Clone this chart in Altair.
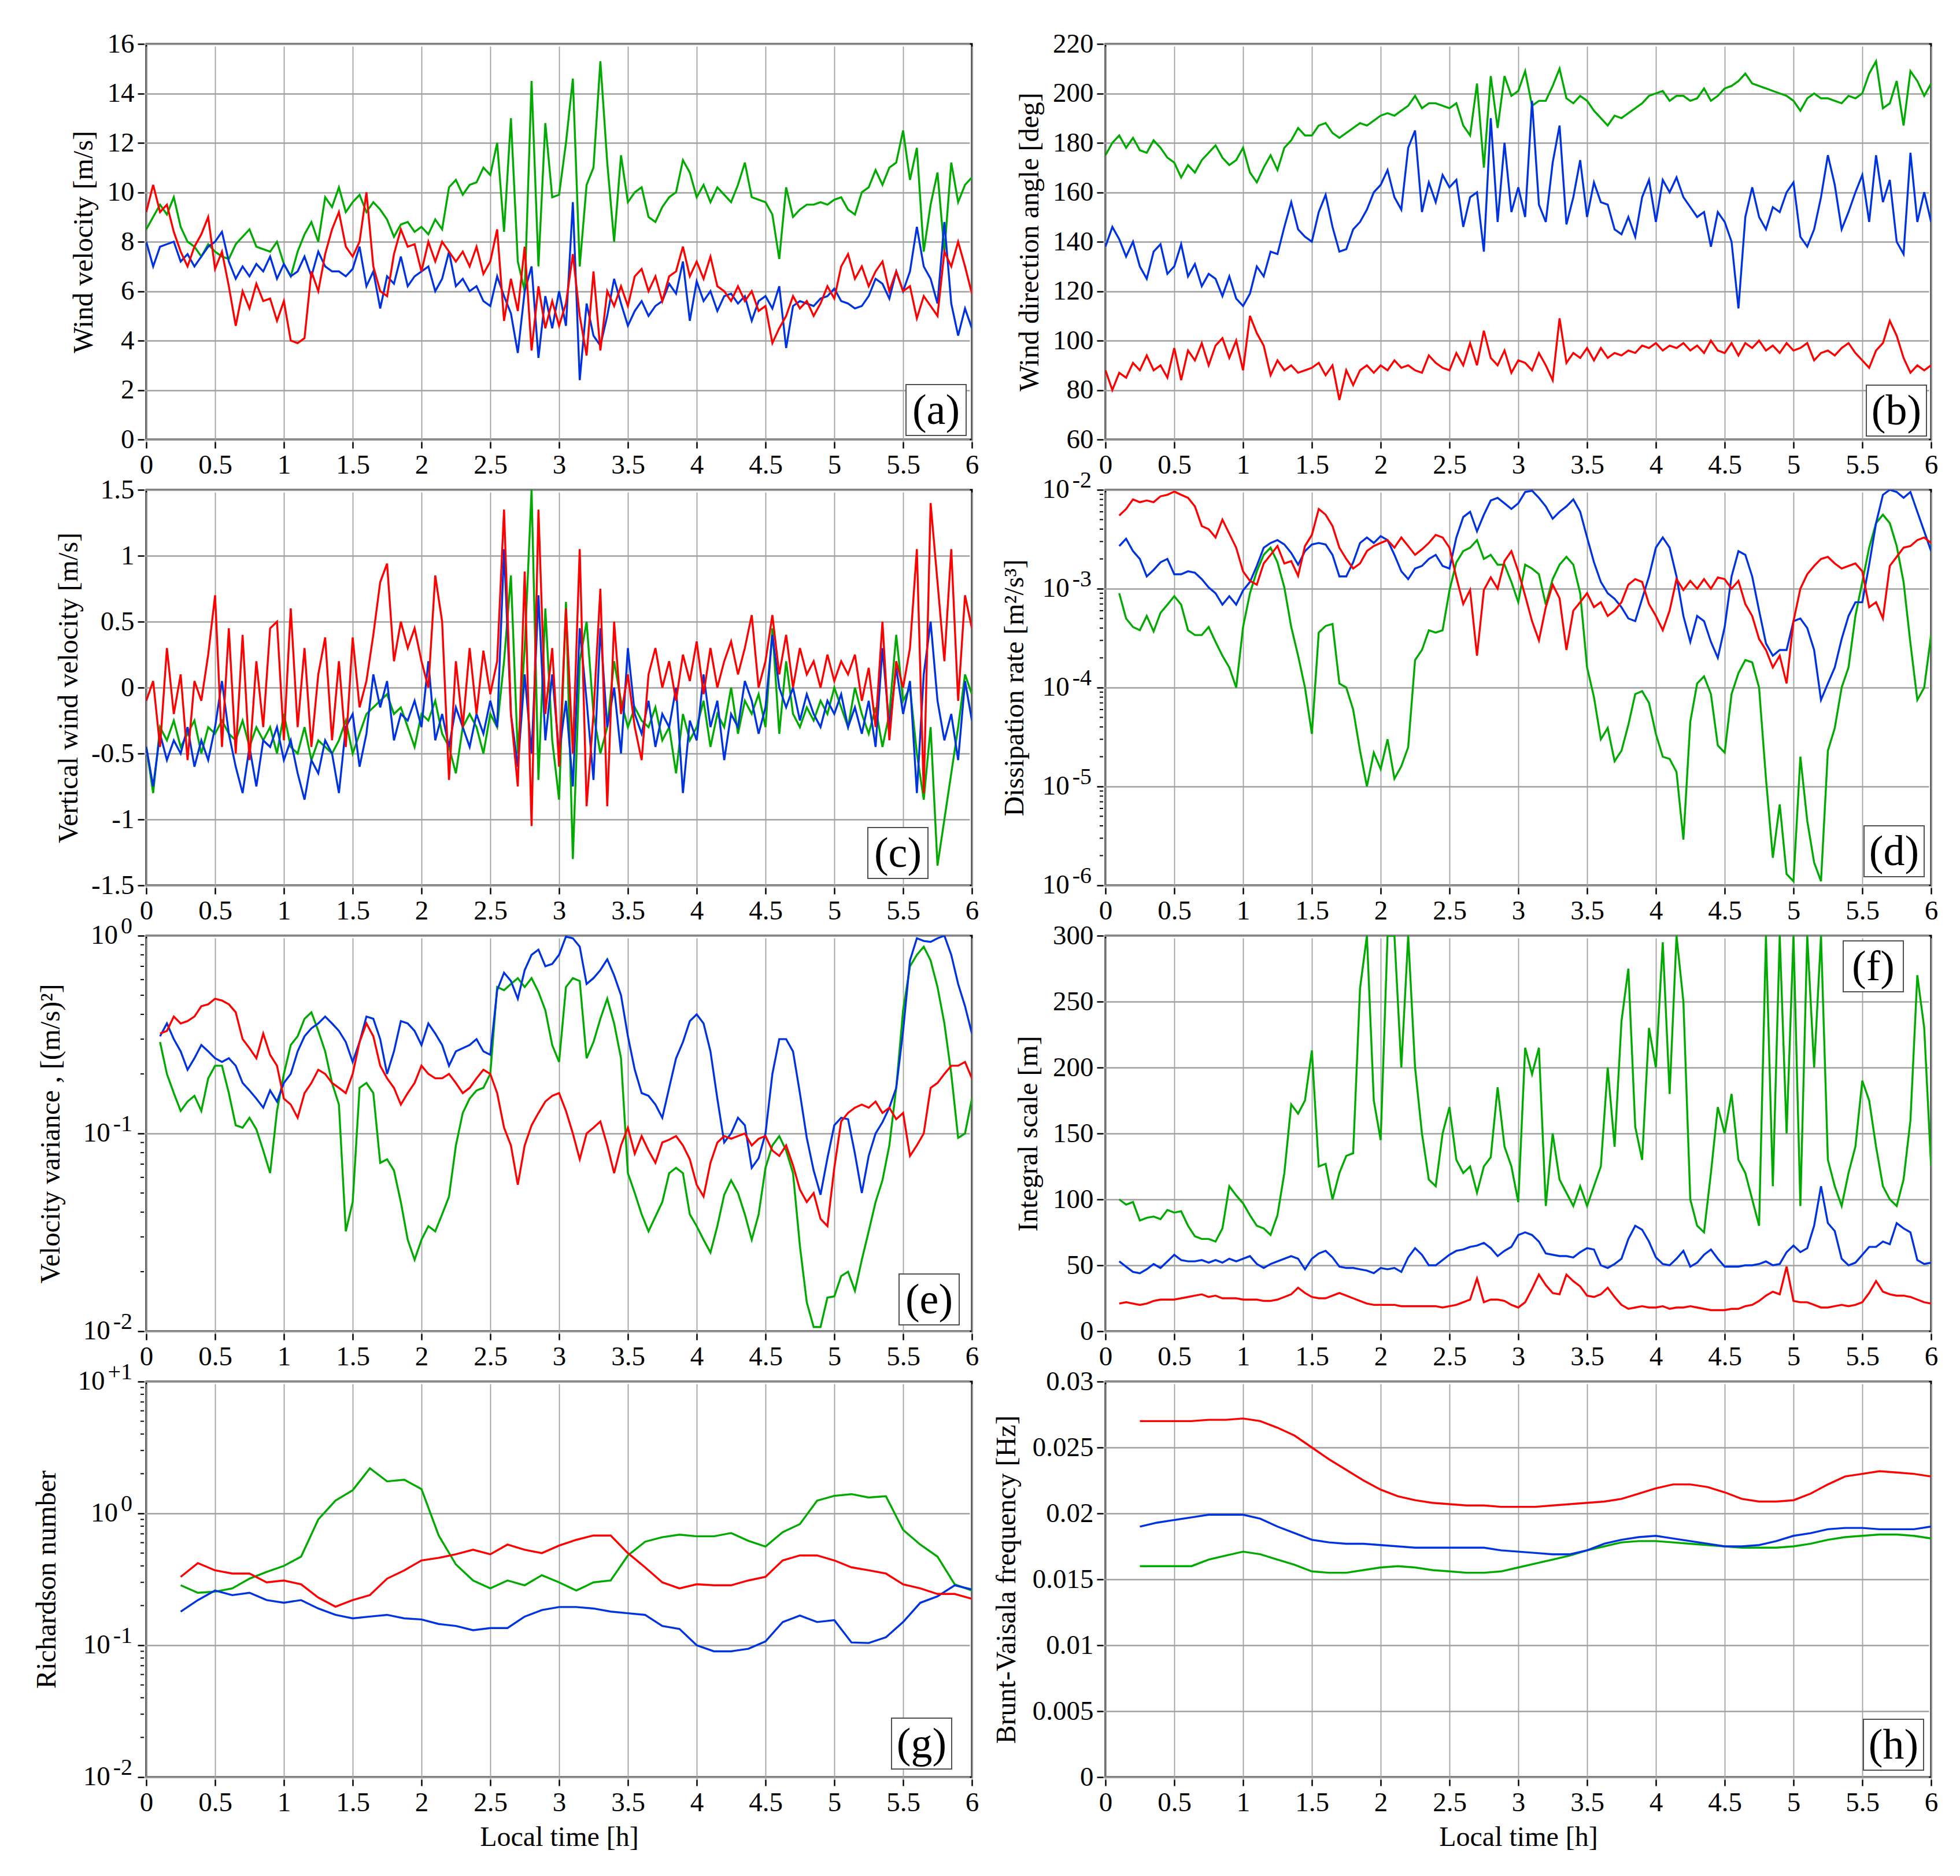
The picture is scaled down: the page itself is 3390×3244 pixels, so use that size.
import altair as alt
import pandas as pd

FONT = "Liberation Serif"
GREEN = "#00aa00"
BLUE = "#0033e0"
RED = "#ff0000"
W, H = 1428, 684          # plot area of every panel
BW, BH = 104, 88          # panel tag box
LINE_W = 3.4

X_TICKS = [0, 0.5, 1, 1.5, 2, 2.5, 3, 3.5, 4, 4.5, 5, 5.5, 6]


def grid_times(start, step, n):
    return [round(start + i * step, 4) for i in range(n)]


T_FULL = grid_times(0.0, 0.05, 121)     # 0 .. 6 h
T_LATE = grid_times(0.1, 0.05, 119)     # 0.1 .. 6 h
T_SMOOTH = grid_times(0.25, 0.125, 47)  # 0.25 .. 6 h

# ---------------- (a) wind velocity [m/s] ----------------
GREEN_A = [8.5, 9.0, 9.5, 9.1, 9.8, 8.6, 8.0, 7.8, 7.4, 7.9,
           7.6, 7.4, 7.3, 7.9, 8.2, 8.5, 7.8, 7.7, 7.6, 8.0,
           7.1, 6.6, 7.6, 8.3, 8.8, 8.0, 9.8, 9.4, 10.2, 9.2,
           9.6, 9.9, 9.2, 9.6, 9.3, 8.9, 8.2, 8.7, 8.8, 8.4,
           8.6, 8.3, 8.9, 8.5, 10.2, 10.5, 9.9, 10.3, 10.4, 11.0,
           10.7, 12.0, 8.4, 13.0, 7.2, 6.0, 14.5, 7.0, 12.8, 9.8,
           9.9, 12.0, 14.6, 7.0, 10.3, 11.0, 15.3, 11.2, 8.0, 11.5,
           9.6, 10.0, 10.2, 9.0, 8.8, 9.4, 9.8, 10.0, 11.3, 10.8,
           9.8, 10.3, 9.6, 10.2, 9.9, 9.6, 10.3, 11.2, 9.8, 9.7,
           9.6, 9.1, 7.3, 10.2, 9.0, 9.3, 9.5, 9.5, 9.6, 9.5,
           9.7, 9.8, 9.3, 9.1, 10.0, 10.2, 10.9, 10.3, 11.0, 11.2,
           12.5, 10.5, 11.8, 7.6, 9.5, 10.8, 7.6, 11.2, 9.6, 10.3, 10.6]
BLUE_A = [8.0, 7.0, 7.8, 7.9, 8.0, 7.2, 7.5, 7.0, 7.4, 7.8,
          8.0, 8.4, 7.2, 6.5, 7.0, 6.6, 7.1, 6.8, 7.4, 6.5,
          7.1, 6.6, 6.8, 7.4, 6.6, 7.6, 7.0, 6.8, 6.8, 6.6,
          6.9, 7.8, 6.2, 6.8, 5.3, 6.6, 6.3, 7.4, 6.2, 6.6,
          6.8, 7.0, 6.0, 6.5, 7.6, 6.2, 6.5, 6.0, 6.2, 5.6,
          5.4, 6.6, 5.8, 5.1, 3.5, 6.0, 7.0, 3.3, 5.8, 4.5,
          6.0, 4.6, 9.6, 2.4, 5.5, 4.2, 3.8, 5.0, 6.5, 5.5,
          4.6, 5.2, 5.6, 5.0, 5.4, 5.6, 6.3, 5.9, 7.2, 4.8,
          6.4, 5.6, 6.0, 5.2, 5.8, 5.9, 5.5, 5.8, 4.8, 5.6,
          5.8, 5.3, 6.2, 3.7, 5.4, 5.6, 5.5, 5.4, 5.7, 5.8,
          6.1, 5.6, 5.5, 5.3, 5.4, 5.8, 6.5, 6.3, 5.7, 6.8,
          6.0, 6.8, 8.6, 7.0, 6.5, 5.5, 8.8, 5.5, 4.2, 5.3, 4.5]
RED_A = [9.2, 10.3, 9.2, 9.5, 8.4, 7.6, 7.0, 7.8, 8.3, 9.0,
         6.9, 7.6, 6.2, 4.6, 6.0, 5.3, 6.3, 5.6, 5.7, 4.8,
         5.6, 4.0, 3.9, 4.1, 6.8, 6.0, 7.5, 8.5, 9.2, 7.8,
         7.4, 8.0, 10.0, 7.0, 6.0, 5.8, 7.5, 8.5, 7.8, 7.9,
         6.8, 8.0, 7.2, 8.0, 7.6, 7.2, 7.6, 7.0, 7.8, 6.7,
         7.2, 8.5, 4.8, 6.5, 5.2, 7.8, 3.6, 6.2, 4.5, 5.6,
         4.6, 5.5, 7.5, 5.0, 3.4, 6.8, 3.6, 6.0, 5.4, 6.2,
         5.4, 6.6, 6.9, 6.0, 6.6, 5.6, 6.6, 6.8, 7.8, 6.6,
         7.2, 6.5, 7.4, 6.2, 6.0, 5.6, 6.2, 5.6, 6.0, 5.2,
         5.4, 3.9, 4.5, 5.0, 5.8, 5.3, 5.6, 5.0, 5.5, 6.2,
         5.7, 7.0, 7.5, 6.5, 7.0, 6.2, 6.8, 7.2, 6.0, 6.8,
         6.0, 6.2, 4.9, 5.8, 5.4, 5.0, 7.6, 7.0, 8.0, 7.0, 5.9]

# ---------------- (b) wind direction [deg] ----------------
GREEN_B = [175, 180, 183, 178, 182, 177, 176, 181, 178, 174,
           172, 166, 171, 168, 173, 176, 179, 174, 171, 173,
           178, 168, 164, 170, 175, 169, 178, 181, 186, 183,
           183, 187, 188, 184, 182, 184, 186, 188, 187, 189,
           191, 192, 191, 193, 195, 199, 194, 196, 196, 195,
           194, 196, 187, 183, 204, 170, 207, 186, 207, 199,
           201, 209, 195, 197, 197, 203, 210, 198, 196, 199,
           197, 193, 190, 187, 191, 190, 192, 194, 196, 199,
           200, 201, 197, 199, 199, 197, 198, 202, 197, 199,
           202, 203, 205, 208, 204, 203, 202, 201, 200, 199,
           197, 193, 198, 200, 198, 198, 197, 196, 199, 198,
           200, 208, 213, 194, 196, 205, 187, 209, 205, 199, 204]
BLUE_B = [138, 146, 141, 134, 140, 130, 125, 136, 139, 127,
          130, 139, 126, 131, 122, 127, 125, 118, 126, 117,
          114, 119, 130, 126, 136, 135, 146, 156, 145, 142,
          140, 152, 159, 146, 136, 137, 145, 148, 153, 160,
          163, 169, 158, 153, 178, 185, 152, 164, 156, 167,
          162, 165, 146, 158, 160, 136, 190, 148, 180, 152,
          162, 150, 197, 155, 148, 172, 187, 147, 158, 173,
          150, 164, 156, 155, 145, 143, 150, 142, 158, 165,
          148, 165, 160, 166, 158, 154, 150, 152, 138, 152,
          148, 140, 113, 150, 162, 150, 145, 154, 152, 160,
          164, 142, 138, 145, 158, 175, 163, 145, 152, 160,
          167, 148, 175, 156, 165, 140, 135, 176, 148, 160, 148]
RED_B = [88, 80, 87, 85, 91, 88, 94, 88, 90, 85,
         97, 84, 96, 92, 99, 90, 98, 101, 93, 100,
         88, 110, 103, 98, 86, 92, 88, 90, 87, 88,
         89, 91, 86, 90, 76, 88, 82, 88, 90, 87,
         90, 88, 92, 89, 90, 88, 87, 94, 91, 89,
         88, 95, 90, 99, 90, 104, 93, 90, 96, 87,
         92, 91, 88, 95, 90, 84, 109, 91, 95, 93,
         97, 92, 97, 93, 95, 94, 96, 95, 98, 97,
         99, 96, 98, 97, 99, 96, 98, 95, 100, 96,
         95, 99, 94, 99, 97, 100, 96, 98, 95, 99,
         96, 97, 99, 92, 95, 96, 94, 97, 99, 95,
         92, 89, 96, 99, 108, 102, 93, 87, 90, 88, 90]

# ---------------- (c) vertical wind velocity [m/s] ----------------
GREEN_C = [-0.45, -0.8, -0.3, -0.4, -0.25, -0.45, -0.35, -0.25, -0.5, -0.3,
           -0.35, -0.25, -0.35, -0.4, -0.25, -0.45, -0.3, -0.4, -0.3, -0.5,
           -0.2, -0.45, -0.5, -0.3, -0.55, -0.4, -0.45, -0.5, -0.4, -0.25,
           -0.5, -0.35, -0.2, -0.15, -0.1, -0.05, -0.2, -0.15, -0.3, -0.45,
           -0.2, -0.25, -0.1, -0.35, -0.45, -0.65, -0.3, -0.2, -0.3, -0.5,
           -0.2, -0.3, 0.2, 0.85, -0.5, 0.3, 1.5, -0.7, 0.6, -0.4,
           -0.85, 0.65, -1.3, 0.2, 0.5, -0.2, -0.5, -0.3, 0.2, -0.1,
           -0.3, -0.15, -0.25, -0.3, -0.15, -0.4, -0.3, -0.65, -0.2, -0.4,
           -0.3, -0.1, -0.45, -0.2, -0.3, 0.0, -0.35, -0.1, -0.2, -0.05,
           -0.3, 0.45, -0.35, 0.2, -0.2, -0.3, -0.15, -0.25, -0.1, -0.2,
           0.0, -0.15, -0.3, 0.0, -0.2, -0.35, -0.15, -0.45, -0.2, 0.4,
           -0.1, 0.0, -0.5, -0.85, -0.3, -1.35, -1.0, -0.65, -0.3, 0.1, -0.05]
BLUE_C = [-0.45, -0.75, -0.35, -0.55, -0.4, -0.5, -0.3, -0.6, -0.4, -0.55,
          -0.3, 0.05, -0.35, -0.6, -0.8, -0.45, -0.75, -0.4, -0.45, -0.3,
          -0.55, -0.4, -0.65, -0.85, -0.55, -0.65, -0.4, -0.5, -0.8, -0.3,
          -0.2, -0.6, -0.35, 0.1, -0.15, 0.05, -0.4, -0.2, -0.25, -0.1,
          -0.3, 0.2, -0.4, -0.2, -0.45, -0.15, -0.3, -0.45, -0.2, -0.35,
          -0.1, -0.3, 1.05, -0.2, -0.6, 0.1, -0.5, 0.7, -0.4, 0.1,
          -0.5, -0.1, -0.75, 0.45, -0.1, -0.7, 0.45, -0.3, 0.0, -0.5,
          0.3, -0.2, -0.35, -0.1, -0.45, -0.2, -0.3, 0.0, -0.8, -0.25,
          -0.4, 0.1, -0.3, -0.1, -0.55, -0.2, -0.3, 0.05, -0.1, -0.35,
          -0.15, 0.4, 0.0, -0.15, 0.0, -0.25, -0.05, -0.2, -0.3, -0.1,
          -0.2, -0.05, -0.3, -0.15, -0.35, -0.1, -0.45, 0.3, -0.3, 0.15,
          -0.2, 0.05, -0.8, 0.1, 0.5, -0.1, -0.4, -0.2, -0.55, 0.05, -0.25]
RED_C = [-0.1, 0.05, -0.45, 0.3, -0.2, 0.1, -0.55, 0.05, -0.1, 0.25,
         0.7, -0.45, 0.45, -0.5, 0.4, -0.55, 0.2, -0.3, 0.45, 0.5,
         -0.4, 0.6, -0.3, 0.3, -0.45, 0.1, 0.38, -0.4, 0.2, -0.45,
         0.38, -0.15, 0.05, 0.4, 0.8, 0.94, 0.2, 0.5, 0.3, 0.45,
         0.2, 0.0, 0.85, 0.5, -0.7, 0.2, -0.3, 0.3, -0.2, 0.28,
         -0.05, 0.2, 1.35, -0.2, -0.75, 0.88, -1.05, 1.35, -0.2, 0.3,
         -0.6, 0.6, -0.5, 1.05, -0.9, -0.2, 0.75, -0.9, 0.5, -0.2,
         0.1, -0.3, -0.55, 0.1, 0.3, 0.0, 0.2, -0.1, 0.25, 0.05,
         0.35, -0.05, 0.3, 0.0, 0.2, 0.35, 0.1, 0.3, 0.55, 0.0,
         0.2, 0.55, 0.1, 0.4, 0.0, 0.3, 0.1, 0.2, 0.0, 0.25,
         0.05, 0.2, 0.1, 0.25, -0.1, 0.15, -0.3, 0.5, -0.4, 0.2,
         0.0, 0.3, 1.05, -0.8, 1.4, 0.8, 0.2, 1.05, -0.1, 0.7, 0.45]

# ---------------- (d) dissipation rate [m2/s3] ----------------
GREEN_D = [9.0e-4, 5.0e-4, 4.1e-4, 3.8e-4, 5.3e-4, 3.7e-4, 5.7e-4, 6.9e-4, 8.4e-4, 6.9e-4,
           3.8e-4, 3.4e-4, 3.4e-4, 4.1e-4, 2.9e-4, 2.1e-4, 1.6e-4, 1.0e-4, 4.1e-4, 9.0e-4,
           1.5e-3, 2.2e-3, 2.6e-3, 1.85e-3, 1.03e-3, 4.1e-4, 2.1e-4, 1.0e-4, 3.4e-5, 3.6e-4,
           4.2e-4, 4.4e-4, 1.1e-4, 1.0e-4, 6.0e-5, 2.3e-5, 1.0e-5, 2.2e-5, 1.5e-5, 3.0e-5,
           1.2e-5, 1.6e-5, 2.5e-5, 1.9e-4, 2.4e-4, 3.8e-4, 3.6e-4, 3.8e-4, 9.6e-4, 1.85e-3,
           2.4e-3, 2.6e-3, 3.1e-3, 2.0e-3, 2.2e-3, 1.75e-3, 1.75e-3, 1.17e-3, 7.3e-4, 1.75e-3,
           1.6e-3, 1.4e-3, 6.9e-4, 1.25e-3, 1.75e-3, 2.1e-3, 1.75e-3, 9.0e-4, 1.6e-4, 8.0e-5,
           3.0e-5, 3.9e-5, 1.8e-5, 2.3e-5, 4.2e-5, 8.6e-5, 9.2e-5, 7.0e-5, 3.4e-5, 2.0e-5,
           1.9e-5, 1.4e-5, 2.9e-6, 4.5e-5, 1.1e-4, 1.3e-4, 8.6e-5, 2.6e-5, 2.2e-5, 8.6e-5,
           1.4e-4, 1.9e-4, 1.8e-4, 1.0e-4, 1.2e-5, 1.9e-6, 6.6e-6, 1.3e-6, 1.1e-6, 2.0e-5,
           4.5e-6, 1.7e-6, 1.1e-6, 2.3e-5, 3.9e-5, 1.0e-4, 1.6e-4, 5.3e-4, 1.17e-3, 2.6e-3,
           4.6e-3, 5.6e-3, 4.6e-3, 2.7e-3, 1.17e-3, 2.8e-4, 7.5e-5, 1.0e-4, 3.4e-4]
BLUE_D = [2.7e-3, 3.2e-3, 2.4e-3, 2.0e-3, 1.33e-3, 1.55e-3, 1.85e-3, 2.0e-3, 1.4e-3, 1.4e-3,
          1.5e-3, 1.45e-3, 1.25e-3, 1.03e-3, 9.0e-4, 6.9e-4, 8.4e-4, 6.9e-4, 9.6e-4, 1.17e-3,
          1.7e-3, 2.6e-3, 2.9e-3, 3.1e-3, 2.8e-3, 2.3e-3, 1.75e-3, 2.4e-3, 2.8e-3, 2.9e-3,
          2.8e-3, 2.2e-3, 1.33e-3, 1.33e-3, 1.85e-3, 2.9e-3, 3.3e-3, 2.9e-3, 3.4e-3, 3.1e-3,
          2.2e-3, 1.5e-3, 1.25e-3, 1.6e-3, 1.7e-3, 2.0e-3, 2.2e-3, 1.7e-3, 1.6e-3, 3.3e-3,
          5.3e-3, 6.0e-3, 3.8e-3, 5.6e-3, 7.8e-3, 8.3e-3, 7.3e-3, 6.4e-3, 7.3e-3, 9.5e-3,
          9.8e-3, 8.3e-3, 6.8e-3, 5.1e-3, 6.0e-3, 6.8e-3, 8.0e-3, 6.0e-3, 3.3e-3, 1.85e-3,
          1.17e-3, 9.0e-4, 7.9e-4, 6.5e-4, 5.0e-4, 4.7e-4, 7.9e-4, 1.33e-3, 2.6e-3, 3.3e-3,
          2.6e-3, 1.33e-3, 5.3e-4, 2.9e-4, 5.3e-4, 4.7e-4, 2.9e-4, 2.0e-4, 4.1e-4, 1.33e-3,
          2.4e-3, 2.2e-3, 1.33e-3, 6.0e-4, 2.8e-4, 2.1e-4, 2.4e-4, 2.4e-4, 4.7e-4, 5.0e-4,
          4.0e-4, 2.4e-4, 7.5e-5, 1.1e-4, 1.6e-4, 3.1e-4, 5.3e-4, 7.3e-4, 7.3e-4, 1.75e-3,
          4.6e-3, 8.9e-3, 1.0e-2, 9.5e-3, 8.3e-3, 9.5e-3, 6.0e-3, 3.8e-3, 2.4e-3]
RED_D = [5.5e-3, 6.4e-3, 8.0e-3, 7.5e-3, 7.8e-3, 7.5e-3, 8.6e-3, 8.9e-3, 9.6e-3, 8.9e-3,
         8.3e-3, 6.8e-3, 4.3e-3, 4.0e-3, 3.3e-3, 5.0e-3, 3.6e-3, 2.6e-3, 1.5e-3, 1.2e-3,
         1.1e-3, 1.8e-3, 2.2e-3, 2.7e-3, 1.8e-3, 1.9e-3, 1.35e-3, 2.7e-3, 3.5e-3, 6.4e-3,
         5.6e-3, 4.3e-3, 2.6e-3, 2.0e-3, 1.6e-3, 1.8e-3, 2.4e-3, 2.7e-3, 2.9e-3, 3.1e-3,
         2.6e-3, 3.3e-3, 2.7e-3, 2.2e-3, 2.5e-3, 2.9e-3, 3.5e-3, 3.3e-3, 2.6e-3, 1.3e-3,
         7.0e-4, 9.7e-4, 2.1e-4, 9.7e-4, 1.3e-3, 1.0e-3, 1.9e-3, 2.4e-3, 1.5e-3, 8.5e-4,
         4.7e-4, 3.0e-4, 6.5e-4, 1.1e-3, 8.0e-4, 2.4e-4, 6.0e-4, 7.3e-4, 9.0e-4, 6.5e-4,
         7.3e-4, 5.3e-4, 6.0e-4, 7.3e-4, 1.1e-3, 1.25e-3, 1.17e-3, 7.0e-4, 5.3e-4, 3.8e-4,
         6.0e-4, 1.25e-3, 9.7e-4, 1.2e-3, 1.0e-3, 1.25e-3, 1.0e-3, 1.3e-3, 1.25e-3, 1.0e-3,
         1.2e-3, 7.0e-4, 5.3e-4, 3.1e-4, 2.4e-4, 1.6e-4, 2.1e-4, 1.1e-4, 4.7e-4, 1.0e-3,
         1.4e-3, 1.7e-3, 2.0e-3, 2.1e-3, 1.8e-3, 1.6e-3, 1.7e-3, 1.8e-3, 1.5e-3, 6.5e-4,
         7.3e-4, 5.0e-4, 1.7e-3, 2.1e-3, 2.6e-3, 2.7e-3, 3.1e-3, 3.3e-3, 2.9e-3]

# ---------------- (e) velocity variance [(m/s)2] ----------------
GREEN_E = [0.29, 0.20, 0.16, 0.13, 0.145, 0.155, 0.13, 0.19, 0.22, 0.22,
           0.16, 0.11, 0.107, 0.12, 0.105, 0.082, 0.063, 0.13, 0.20, 0.28,
           0.31, 0.38, 0.41, 0.33, 0.26, 0.18, 0.14, 0.032, 0.045, 0.17,
           0.18, 0.16, 0.071, 0.074, 0.065, 0.045, 0.029, 0.023, 0.029, 0.034,
           0.032, 0.039, 0.048, 0.087, 0.127, 0.15, 0.165, 0.17, 0.20, 0.55,
           0.53, 0.57, 0.61, 0.55, 0.61, 0.52, 0.42, 0.28, 0.23, 0.55,
           0.61, 0.59, 0.24, 0.29, 0.38, 0.48, 0.36, 0.24, 0.063, 0.05,
           0.039, 0.032, 0.038, 0.045, 0.063, 0.067, 0.063, 0.039, 0.034, 0.029,
           0.025, 0.034, 0.049, 0.058, 0.05, 0.039, 0.029, 0.039, 0.067, 0.087,
           0.097, 0.082, 0.063, 0.027, 0.014, 0.0105, 0.0105, 0.0148, 0.015, 0.019,
           0.02, 0.016, 0.023, 0.032, 0.045, 0.058, 0.087, 0.17, 0.42, 0.70,
           0.80, 0.88, 0.75, 0.55, 0.36, 0.20, 0.095, 0.10, 0.15]
BLUE_E = [0.31, 0.36, 0.30, 0.26, 0.21, 0.24, 0.28, 0.26, 0.24, 0.23,
          0.24, 0.22, 0.18, 0.165, 0.15, 0.135, 0.165, 0.145, 0.18, 0.20,
          0.26, 0.31, 0.34, 0.36, 0.39, 0.36, 0.33, 0.29, 0.23, 0.29,
          0.39, 0.38, 0.30, 0.20, 0.26, 0.37, 0.36, 0.33, 0.28, 0.36,
          0.32, 0.28, 0.22, 0.26, 0.27, 0.28, 0.30, 0.26, 0.25, 0.53,
          0.65, 0.59, 0.48, 0.67, 0.80, 0.85, 0.70, 0.72, 0.80, 0.99,
          0.97, 0.88, 0.57, 0.61, 0.67, 0.76, 0.63, 0.50, 0.31, 0.21,
          0.16, 0.155, 0.14, 0.12, 0.17, 0.24, 0.29, 0.37, 0.40, 0.36,
          0.26, 0.15, 0.09, 0.10, 0.12, 0.11, 0.067, 0.075, 0.10, 0.20,
          0.30, 0.30, 0.26, 0.16, 0.095, 0.065, 0.049, 0.075, 0.11, 0.12,
          0.118, 0.079, 0.05, 0.077, 0.10, 0.114, 0.135, 0.17, 0.33, 0.75,
          0.97, 0.94, 0.93, 0.97, 1.0, 0.80, 0.57, 0.44, 0.32]
RED_E = [0.32, 0.33, 0.39, 0.36, 0.37, 0.39, 0.44, 0.45, 0.48, 0.47,
         0.45, 0.41, 0.30, 0.27, 0.24, 0.32, 0.25, 0.22, 0.15, 0.14,
         0.12, 0.16, 0.18, 0.21, 0.20, 0.18, 0.17, 0.16, 0.20, 0.29,
         0.36, 0.31, 0.22, 0.19, 0.17, 0.14, 0.16, 0.18, 0.22, 0.20,
         0.19, 0.19, 0.20, 0.18, 0.16, 0.17, 0.19, 0.21, 0.20, 0.16,
         0.107, 0.087, 0.055, 0.087, 0.11, 0.127, 0.145, 0.155, 0.16, 0.13,
         0.10, 0.074, 0.10, 0.107, 0.115, 0.087, 0.063, 0.087, 0.107, 0.079,
         0.097, 0.082, 0.071, 0.09, 0.093, 0.097, 0.087, 0.074, 0.055, 0.048,
         0.071, 0.09, 0.097, 0.094, 0.097, 0.10, 0.087, 0.094, 0.097, 0.082,
         0.077, 0.087, 0.069, 0.052, 0.045, 0.05, 0.037, 0.034, 0.067, 0.115,
         0.127, 0.135, 0.14, 0.135, 0.145, 0.127, 0.135, 0.118, 0.127, 0.077,
         0.087, 0.10, 0.17, 0.18, 0.20, 0.22, 0.22, 0.23, 0.19]

# ---------------- (f) integral scale [m] ----------------
GREEN_F = [100, 96, 98, 84, 86, 87, 85, 92, 90, 91,
           80, 72, 70, 70, 68, 78, 110, 103, 97, 88,
           80, 78, 73, 88, 120, 172, 165, 175, 213, 125,
           127, 100, 120, 133, 135, 260, 300, 175, 145, 300,
           300, 200, 300, 200, 150, 115, 110, 150, 170, 130,
           120, 125, 105, 125, 132, 185, 140, 125, 98, 215,
           195, 215, 95, 150, 115, 105, 95, 110, 95, 110,
           125, 200, 140, 235, 275, 155, 130, 230, 200, 295,
           180, 300, 250, 100, 80, 75, 120, 170, 150, 180,
           130, 120, 100, 80, 300, 110, 300, 150, 300, 95,
           300, 200, 300, 130, 110, 95, 120, 140, 190, 175,
           140, 110, 100, 95, 115, 160, 270, 230, 125]
BLUE_F = [53, 49, 45, 44, 47, 51, 48, 53, 58, 54,
          53, 53, 54, 52, 54, 52, 55, 53, 55, 57,
          51, 48, 51, 53, 55, 57, 55, 47, 55, 59,
          61, 56, 49, 48, 48, 47, 46, 44, 48, 47,
          48, 45, 56, 63, 58, 50, 50, 54, 58, 61,
          62, 64, 65, 67, 63, 57, 61, 64, 73, 75,
          73, 68, 59, 58, 57, 57, 56, 60, 63, 62,
          50, 48, 51, 55, 70, 80, 77, 68, 56, 51,
          50, 55, 61, 49, 52, 58, 62, 55, 49, 49,
          49, 50, 50, 51, 53, 50, 51, 60, 65, 60,
          63, 80, 110, 82, 76, 55, 50, 52, 58, 64,
          64, 68, 66, 82, 78, 75, 54, 51, 52]
RED_F = [21, 22, 21, 20, 21, 23, 24, 24, 24, 25,
         26, 27, 28, 26, 27, 25, 25, 25, 24, 24,
         24, 23, 23, 24, 26, 28, 33, 29, 26, 25,
         25, 27, 29, 27, 25, 23, 21, 20, 20, 20,
         20, 19, 19, 19, 19, 19, 19, 18, 19, 20,
         22, 24, 40, 22, 24, 24, 23, 20, 18, 22,
         32, 43, 35, 29, 28, 43, 38, 34, 27, 26,
         28, 33, 26, 20, 17, 18, 19, 18, 18, 19,
         17, 18, 18, 19, 18, 17, 16, 16, 16, 17,
         17, 19, 20, 23, 27, 30, 28, 49, 23, 22,
         22, 20, 18, 18, 19, 20, 19, 20, 22, 29,
         38, 30, 28, 27, 27, 26, 24, 22, 21]

# ---------------- (g) Richardson number ----------------
GREEN_G = [0.285, 0.25, 0.255, 0.27, 0.32, 0.36, 0.40, 0.47,
           0.9, 1.25, 1.5, 2.2, 1.75, 1.8, 1.53, 0.68,
           0.41, 0.31, 0.27, 0.31, 0.285, 0.34, 0.30, 0.26,
           0.30, 0.31, 0.48, 0.61, 0.66, 0.69, 0.67, 0.67,
           0.71, 0.62, 0.56, 0.72, 0.83, 1.25, 1.36, 1.4,
           1.32, 1.35, 0.75, 0.58, 0.47, 0.29, 0.26]
BLUE_G = [0.18, 0.22, 0.26, 0.24, 0.25, 0.22, 0.21, 0.22,
          0.19, 0.17, 0.16, 0.165, 0.17, 0.16, 0.157, 0.145,
          0.14, 0.13, 0.135, 0.135, 0.165, 0.185, 0.195, 0.195,
          0.19, 0.18, 0.175, 0.17, 0.14, 0.133, 0.1, 0.09,
          0.09, 0.094, 0.107, 0.15, 0.168, 0.15, 0.155, 0.105,
          0.104, 0.115, 0.15, 0.21, 0.235, 0.285, 0.265]
RED_G = [0.33, 0.42, 0.37, 0.35, 0.35, 0.30, 0.31, 0.29,
         0.23, 0.196, 0.22, 0.24, 0.32, 0.37, 0.44, 0.46,
         0.49, 0.53, 0.49, 0.58, 0.53, 0.50, 0.57, 0.63,
         0.68, 0.68, 0.50, 0.39, 0.30, 0.27, 0.29, 0.285,
         0.285, 0.31, 0.33, 0.44, 0.48, 0.48, 0.44, 0.39,
         0.37, 0.35, 0.29, 0.27, 0.245, 0.245, 0.225]

# ---------------- (h) Brunt-Vaisala frequency [Hz] ----------------
GREEN_H = [0.0160, 0.0160, 0.0160, 0.0160, 0.0165, 0.0168, 0.0171, 0.0169,
           0.0165, 0.0161, 0.0156, 0.0155, 0.0155, 0.0157, 0.0159, 0.0160,
           0.0159, 0.0157, 0.0156, 0.0155, 0.0155, 0.0156, 0.0159, 0.0162,
           0.0165, 0.0168, 0.0172, 0.0175, 0.0178, 0.0179, 0.0179, 0.0178,
           0.0177, 0.0176, 0.0175, 0.0174, 0.0174, 0.0174, 0.0175, 0.0177,
           0.0180, 0.0182, 0.0183, 0.0184, 0.0184, 0.0183, 0.0181]
BLUE_H = [0.0190, 0.0193, 0.0195, 0.0197, 0.0199, 0.0199, 0.0199, 0.0196,
          0.0190, 0.0185, 0.0180, 0.0178, 0.0177, 0.0177, 0.0176, 0.0175,
          0.0174, 0.0174, 0.0174, 0.0174, 0.0174, 0.0172, 0.0171, 0.0170,
          0.0169, 0.0169, 0.0172, 0.0177, 0.0180, 0.0182, 0.0183, 0.0181,
          0.0179, 0.0177, 0.0175, 0.0175, 0.0176, 0.0179, 0.0183, 0.0185,
          0.0188, 0.0189, 0.0189, 0.0188, 0.0188, 0.0188, 0.0190]
RED_H = [0.0270, 0.0270, 0.0270, 0.0270, 0.0271, 0.0271, 0.0272, 0.0270,
         0.0265, 0.0259, 0.0250, 0.0241, 0.0233, 0.0225, 0.0218, 0.0213,
         0.0210, 0.0208, 0.0207, 0.0206, 0.0206, 0.0205, 0.0205, 0.0205,
         0.0206, 0.0207, 0.0208, 0.0209, 0.0211, 0.0215, 0.0219, 0.0222,
         0.0222, 0.0220, 0.0216, 0.0211, 0.0209, 0.0209, 0.0210, 0.0215,
         0.0222, 0.0228, 0.0230, 0.0232, 0.0231, 0.0230, 0.0228]


def series_frame(times, green, blue, red):
    rows = []
    for name, vals in (("green", green), ("blue", blue), ("red", red)):
        assert len(vals) == len(times), (name, len(vals), len(times))
        rows += [{"t": t, "v": v, "s": name} for t, v in zip(times, vals)]
    return pd.DataFrame(rows)


def minor_ticks(k_from, k_to):
    return [m * 10.0 ** k for k in range(k_from, k_to) for m in range(2, 10)]


TEXT_STYLE = dict(labelFont=FONT, labelFontSize=47, labelColor="black",
                  titleFont=FONT, titleFontSize=48, titleColor="black",
                  titleFontWeight="normal")

# power-of-ten tick labels: "10" with a raised exponent
EXP_SIZE = 40
EXP_GLYPH_W = {"-": 13.3, "+": 22.6}
EXP_RIGHT = -24


def exponent_width(txt):
    return sum(EXP_GLYPH_W.get(c, EXP_SIZE * 0.5) for c in txt)


def panel(df, tag, box, scale, y_values, y_title, title_x,
          label_expr=None, y_format=None, powers=None, x_title=None):
    x_enc = alt.X(
        "t:Q",
        scale=alt.Scale(domain=[0, 6], nice=False, zero=False),
        title=x_title,
        axis=alt.Axis(values=X_TICKS, format="~g", labelFlush=False,
                      labelOverlap=False, labelPadding=43,
                      labelBaseline="alphabetic", titleY=114,
                      titleBaseline="alphabetic", **TEXT_STYLE),
    )
    ax = dict(values=y_values, labelFlush=False, labelOverlap=False,
              labelPadding=6, labelBaseline="middle", titleX=title_x,
              titleY=H / 2, titleAngle=270, titleBaseline="middle",
              titleAlign="center", **TEXT_STYLE)
    if label_expr:
        ax["labelExpr"] = label_expr
    if y_format:
        ax["format"] = y_format
    if powers:
        ax["labels"] = False
    y_enc = alt.Y("v:Q", scale=scale, title=y_title, axis=alt.Axis(**ax))

    layers = []
    for name, color in (("green", GREEN), ("blue", BLUE), ("red", RED)):
        layers.append(
            alt.Chart(df).transform_filter(alt.datum.s == name)
            .mark_line(color=color, strokeWidth=LINE_W, clip=True)
            .encode(x=x_enc, y=y_enc)
        )
    if powers:
        lo, hi = min(powers), max(powers)
        layers.append(
            alt.Chart(pd.DataFrame({"v": minor_ticks(lo, hi)}))
            .mark_rule(color="black", strokeWidth=2)
            .encode(y=y_enc, x=alt.value(-10), x2=alt.value(-4))
        )
        for e in powers:
            exp_txt = ("+" if e > 0 else "") + str(e)
            lab = pd.DataFrame({"v": [10.0 ** e], "base": ["10"], "exp": [exp_txt]})
            layers.append(
                alt.Chart(lab).mark_text(font=FONT, fontSize=EXP_SIZE, color="black",
                                         align="right", baseline="alphabetic", dy=-4)
                .encode(x=alt.value(EXP_RIGHT), y=y_enc, text="exp:N")
            )
            layers.append(
                alt.Chart(lab).mark_text(font=FONT, fontSize=47, color="black",
                                         align="right", baseline="middle")
                .encode(x=alt.value(EXP_RIGHT - exponent_width(exp_txt) - 5),
                        y=y_enc, text="base:N")
            )
    bx, by = box
    tag_df = pd.DataFrame({"tag": [tag]})
    layers.append(
        alt.Chart(tag_df).mark_rect(fill="white", stroke="#505050", strokeWidth=2)
        .encode(x=alt.value(bx), x2=alt.value(bx + BW),
                y=alt.value(by), y2=alt.value(by + BH))
    )
    layers.append(
        alt.Chart(tag_df).mark_text(font=FONT, fontSize=74, color="black",
                                    align="center", baseline="middle")
        .encode(x=alt.value(bx + BW / 2), y=alt.value(by + BH / 2 + 2),
                text="tag:N")
    )
    return alt.layer(*layers).properties(width=W, height=H)


def lin(lo, hi):
    return alt.Scale(domain=[lo, hi], nice=False, zero=False)


def log(lo, hi):
    return alt.Scale(type="log", domain=[lo, hi], nice=False)


pa = panel(series_frame(T_FULL, GREEN_A, BLUE_A, RED_A), "(a)", (1314, 589),
           lin(0, 16), list(range(0, 17, 2)), "Wind velocity [m/s]", -104)
pb = panel(series_frame(T_FULL, GREEN_B, BLUE_B, RED_B), "(b)", (1316, 590),
           lin(60, 220), list(range(60, 221, 20)), "Wind direction angle [deg]", -127)
pc = panel(series_frame(T_FULL, GREEN_C, BLUE_C, RED_C), "(c)", (1248, 584),
           lin(-1.5, 1.5), [-1.5, -1, -0.5, 0, 0.5, 1, 1.5],
           "Vertical wind velocity [m/s]", -130,
           label_expr="datum.value < 0 ? '-' + format(-datum.value, '~g') : format(datum.value, '~g')")
pd_ = panel(series_frame(T_LATE, GREEN_D, BLUE_D, RED_D), "(d)", (1312, 581),
            log(1e-6, 1e-2), [1e-6, 1e-5, 1e-4, 1e-3, 1e-2],
            "Dissipation rate [m²/s³]", -153, powers=[-6, -5, -4, -3, -2])
pe = panel(series_frame(T_LATE, GREEN_E, BLUE_E, RED_E), "(e)", (1302, 585),
           log(1e-2, 1), [0.01, 0.1, 1], "Velocity variance , [(m/s)²]", -161,
           powers=[-2, -1, 0])
pf = panel(series_frame(T_LATE, GREEN_F, BLUE_F, RED_F), "(f)", (1276, 9),
           lin(0, 300), list(range(0, 301, 50)), "Integral scale [m]", -129)
pg = panel(series_frame(T_SMOOTH, GREEN_G, BLUE_G, RED_G), "(g)", (1289, 582),
           log(1e-2, 10), [0.01, 0.1, 1, 10], "Richardson number", -168,
           powers=[-2, -1, 0, 1], x_title="Local time [h]")
ph = panel(series_frame(T_SMOOTH, GREEN_H, BLUE_H, RED_H), "(h)", (1311, 584),
           lin(0, 0.03), [0, 0.005, 0.01, 0.015, 0.02, 0.025, 0.03],
           "Brunt-Vaisala frequency [Hz]", -167, y_format="~g",
           x_title="Local time [h]")

chart = (
    alt.concat(pa, pb, pc, pd_, pe, pf, pg, ph, columns=2,
               spacing={"row": 87, "column": 231}, bounds="flush")
    .properties(padding={"left": 55, "top": 50, "right": 10, "bottom": 10},
                background="white")
    .configure_axis(
        domain=False, ticks=True,
        tickColor="black", tickWidth=2.5, tickSize=11, offset=4,
        grid=True, gridColor="#a0a0a0", **TEXT_STYLE,
    )
    .configure_axisX(gridWidth=1.8)
    .configure_axisY(gridWidth=2.6)
    .configure_view(stroke="black", strokeWidth=3)
)

chart.save("out.html", embed_options={"renderer": "svg", "actions": False})
